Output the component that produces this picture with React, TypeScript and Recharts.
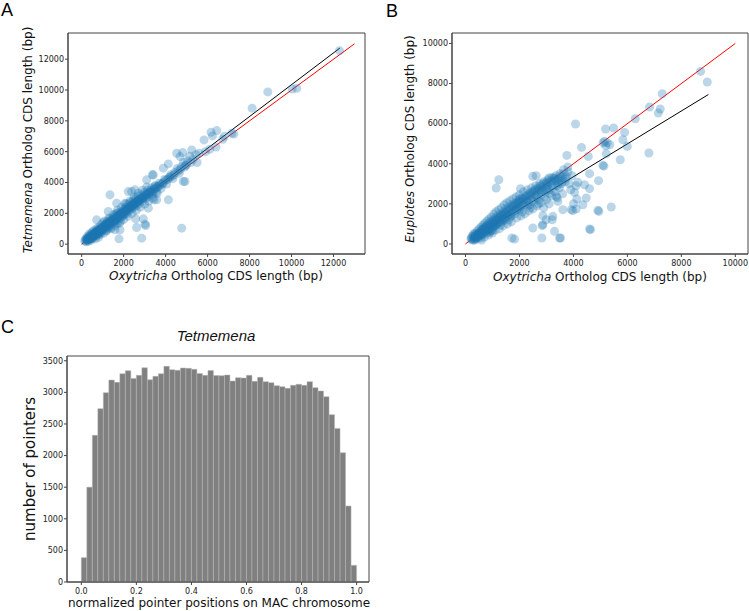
import React from 'react';
import {
  ScatterChart,
  Scatter,
  XAxis,
  YAxis,
  ZAxis,
  ReferenceLine,
  ReferenceArea,
  ComposedChart,
  Bar,
} from 'recharts';

// panel A: Oxytricha vs Tetmemena ortholog CDS length (bp)
const tetmemenaPoints: [number, number][] = [
  [150, 200], [180, 320], [210, 150], [240, 420], [260, 260], [290, 330], [300, 520], [320, 180],
  [340, 380], [360, 650], [380, 300], [400, 470], [420, 560], [440, 250], [460, 700], [480, 420],
  [500, 540], [520, 800], [540, 380], [560, 610], [580, 480], [600, 900], [620, 560], [640, 700],
  [660, 350], [680, 820], [700, 620], [720, 1000], [740, 560], [760, 760], [780, 880], [800, 450],
  [820, 1100], [840, 700], [860, 900], [880, 620], [900, 1000], [920, 1250], [950, 780], [980, 1050],
  [1000, 900], [1020, 1400], [1050, 700], [1080, 1150], [1100, 1000], [1130, 1300], [1160, 850],
  [1200, 1250], [1230, 1500], [1260, 1050], [1300, 1350], [1330, 1200], [1360, 1650], [1400, 1100],
  [1430, 1450], [1460, 1600], [1500, 1300], [1530, 1750], [1560, 1450], [1600, 1900], [1630, 1500],
  [1660, 1700], [1700, 1350], [1730, 1850], [1760, 2050], [1800, 1650], [1830, 1950], [1860, 1500],
  [1900, 2100], [1940, 1800], [1980, 2250], [2020, 1900], [2060, 2150], [2100, 2400], [2140, 1950],
  [2180, 2300], [2220, 2600], [2260, 2150], [2300, 2450], [2340, 2700], [2380, 2300], [2420, 2550],
  [2460, 2850], [2500, 2400], [2540, 2700], [2580, 2950], [2620, 2500], [2660, 2800], [2700, 3100],
  [2750, 2650], [2800, 2950], [2850, 3200], [2900, 2800], [2950, 3100], [3000, 3350], [3050, 2950],
  [3100, 3250], [3150, 3500], [3200, 3100], [3260, 3400], [3320, 3650], [3380, 3250], [3440, 3550],
  [3500, 3800], [3560, 3400], [3620, 3700], [3700, 3950], [3780, 3600], [3860, 3900], [3950, 4200],
  [4050, 3900], [4150, 4300], [4250, 4500], [4350, 4250], [4450, 4650], [4550, 4900], [4650, 4600],
  [4750, 5000], [4850, 5300], [4950, 5100], [5050, 5400], [5150, 5700], [5300, 5500], [5450, 5800],
  [250, 300], [330, 420], [430, 380], [520, 620], [610, 680], [700, 780], [790, 700], [870, 1000],
  [960, 950], [1040, 1150], [1120, 1150], [1210, 1350], [1290, 1250], [1380, 1500], [1470, 1450],
  [1550, 1650], [1640, 1600], [1720, 1800], [1810, 1800], [1890, 1950], [1970, 2050], [2050, 2000],
  [2130, 2250], [2210, 2250], [2290, 2400], [2370, 2500], [2450, 2550], [2530, 2650], [2610, 2700],
  [2690, 2850], [2770, 2900], [2860, 3000], [2940, 3000], [3030, 3150], [3120, 3200], [3210, 3350],
  [230, 240], [270, 350], [310, 280], [350, 330], [390, 450], [410, 360], [450, 480], [470, 540],
  [490, 400], [530, 520], [550, 660], [570, 560], [590, 610], [630, 640], [650, 720], [670, 600],
  [690, 760], [710, 700], [730, 840], [750, 680], [770, 820], [810, 880], [830, 760], [850, 960],
  [890, 900], [910, 860], [930, 1020], [970, 990], [990, 1100], [1010, 950], [1060, 1100], [1090, 1250],
  [1110, 1070], [1140, 1200], [1170, 1230], [1190, 1100], [1220, 1300], [1250, 1380], [1280, 1200],
  [1310, 1420], [1340, 1330], [1370, 1380], [1410, 1520], [1440, 1400], [1480, 1560], [1510, 1480],
  [1540, 1620], [1580, 1560], [1610, 1700], [1650, 1650], [1680, 1800], [1710, 1690], [1750, 1800],
  [1780, 1900], [1820, 1760], [1850, 1990], [1880, 1860], [1920, 2000], [1960, 1950], [2000, 2130],
  [2040, 2050], [2080, 2260], [2120, 2130], [2160, 2200], [2200, 2350], [2240, 2280], [2280, 2390],
  [2320, 2350], [2360, 2480], [2400, 2420], [2440, 2600], [2480, 2500], [2520, 2600], [2560, 2640],
  [2600, 2760], [2640, 2700], [2680, 2780], [2720, 2850], [2780, 2830], [2830, 2980], [2880, 2950],
  [2920, 3050], [2980, 3060], [3080, 3200], [3180, 3300], [3240, 3250], [3300, 3420], [3360, 3480],
  [3420, 3400], [3480, 3600], [3540, 3620], [3640, 3760], [3720, 3800], [3800, 3920], [3900, 4000],
  [4000, 4150], [4100, 4200], [4200, 4350], [4300, 4400], [4400, 4500], [4600, 4750], [4700, 4850],
  [4900, 5000], [5000, 5150], [5200, 5300],
  [1100, 1500], [1300, 1700], [1500, 1900], [1700, 2200], [1900, 2400], [2100, 2600], [2300, 2800],
  [2500, 3050], [2700, 3300], [2900, 3500], [3100, 3700], [1200, 900], [1400, 1000], [1600, 1200],
  [1800, 1350], [2000, 1600], [2200, 1800], [2400, 2000], [2600, 2200], [2800, 2400], [3000, 2600],
  [3200, 2800], [3400, 3000], [3600, 3300],
  [5600, 5900], [5900, 6000], [6100, 6150], [6400, 6300], [6800, 7000], [5500, 5300],
  [6166, 7263], [6437, 7368], [6230, 7023], [5832, 6763], [6723, 6809], [7153, 7198], [7250, 7150],
  [5245, 6115], [4530, 5900], [4816, 5940], [4688, 5681], [4845, 4060], [4130, 5207], [3100, 4170],
  [3415, 4494], [4130, 2873], [3576, 2873], [3177, 2334], [1350, 3197], [2938, 1640], [2623, 1077],
  [3052, 1206], [4768, 1038], [2861, 389], [1779, 344], [1826, 927], [1669, 2010], [715, 1576],
  [2065, 2659], [1669, 2659], [2384, 3411], [2542, 3521], [8121, 8820], [8870, 9877], [10030, 10070],
  [10250, 10116], [12285, 12555], [1269, 2114], [2222, 3411], [3495, 3735], [3892, 4929], [3367, 4494],
  [3019, 1297], [2575, 1640], [1588, 927], [3448, 2873], [4926, 4060],
];

// panel B: Oxytricha vs Euplotes ortholog CDS length (bp)
const euplotesPoints: [number, number][] = [
  [200, 250], [250, 400], [280, 180], [320, 320], [350, 520], [380, 250], [400, 420], [430, 650],
  [450, 300], [480, 500], [500, 750], [520, 380], [550, 600], [580, 850], [600, 450], [620, 700],
  [650, 950], [680, 520], [700, 800], [720, 1050], [750, 600], [780, 900], [800, 1150], [820, 680],
  [850, 1000], [880, 1250], [900, 750], [930, 1100], [960, 1350], [1000, 800], [1020, 1200],
  [1050, 1500], [1080, 900], [1100, 1300], [1130, 1600], [1160, 1000], [1200, 1400], [1230, 1700],
  [1260, 1100], [1300, 1500], [1330, 1800], [1360, 1200], [1400, 1600], [1430, 1950], [1460, 1300],
  [1500, 1750], [1530, 2050], [1560, 1400], [1600, 1850], [1640, 2150], [1680, 1500], [1720, 1950],
  [1760, 2250], [1800, 1650], [1840, 2050], [1880, 2350], [1920, 1750], [1960, 2150], [2000, 2450],
  [2050, 1850], [2100, 2300], [2150, 2600], [2200, 1950], [2250, 2400], [2300, 2700], [2350, 2100],
  [2400, 2550], [2450, 2800], [2500, 2200], [2550, 2650], [2600, 2900], [2650, 2300], [2700, 2750],
  [2750, 3000], [2800, 2450], [2850, 2850], [2900, 3100], [2950, 2600], [3000, 2950], [3050, 3200],
  [3100, 2700], [3150, 3050], [3200, 3300], [3250, 2800], [3300, 3150], [3350, 3400], [3400, 2900],
  [3450, 3250], [3500, 3500], [3550, 3000], [3600, 3300], [3700, 3100],
  [600, 200], [700, 350], [850, 450], [1000, 550], [1100, 700], [1250, 750], [1400, 900], [1550, 1000],
  [1700, 1100], [1900, 1300], [2050, 1400], [2200, 1500], [2350, 1650], [2500, 1750], [2650, 1900],
  [2800, 2050], [3000, 2200], [3200, 2400],
  [300, 500], [350, 200], [420, 350], [460, 550], [540, 450], [560, 300], [640, 600], [660, 800],
  [760, 700], [800, 550], [880, 850], [950, 650], [1050, 1050], [1150, 1200], [1250, 1300],
  [1350, 1450], [1450, 1500], [1550, 1650], [1650, 1750], [1750, 1850], [1850, 1900], [1950, 2000],
  [2050, 2100], [2150, 2200], [2250, 2250], [2350, 2400], [2450, 2500], [2550, 2450], [2650, 2600],
  [2750, 2700], [2850, 2650], [2950, 2800], [3050, 2900], [2300, 1900], [2000, 1700], [1700, 1400],
  [1400, 1150], [1100, 900], [900, 600],
  [220, 300], [260, 230], [300, 380], [330, 260], [370, 420], [390, 330], [440, 480], [470, 380],
  [510, 560], [530, 460], [570, 520], [590, 680], [630, 550], [670, 720], [690, 620], [730, 800],
  [770, 700], [790, 880], [830, 780], [860, 920], [890, 700], [920, 980], [940, 850], [980, 1050],
  [1010, 900], [1040, 1120], [1070, 1000], [1120, 1180], [1140, 950], [1180, 1250], [1210, 1080],
  [1240, 1320], [1280, 1200], [1320, 1400], [1340, 1100], [1380, 1450], [1420, 1300], [1450, 1550],
  [1480, 1250], [1520, 1600], [1580, 1500], [1620, 1700], [1660, 1350], [1700, 1800], [1740, 1600],
  [1780, 1900], [1820, 1500], [1860, 2000], [1900, 1700], [1940, 2050], [1980, 1800], [2020, 2150],
  [2080, 1900], [2120, 2250], [2180, 2050], [2220, 2350], [2280, 2150], [2320, 2450], [2380, 1950],
  [2420, 2350], [2480, 2600], [2520, 2100], [2580, 2700], [2620, 2400], [2680, 2800], [2720, 2200],
  [2780, 2900], [2820, 2600], [2880, 3000], [2920, 2350], [2980, 3050], [3020, 2700], [3080, 3100],
  [3120, 2500], [3180, 3150], [3220, 2900], [3280, 3300], [3320, 2600], [3380, 3200], [3420, 3000],
  [3480, 2800], [3520, 3400], [3580, 3100], [3650, 3500], [3750, 3350], [3800, 3600], [2100, 1600],
  [2400, 1800], [2700, 2000], [1600, 1200], [1300, 950], [1000, 700], [3100, 2000], [2900, 1800],
  [3400, 2300], [3600, 2500],
  [8713, 8605], [8961, 8074], [7293, 7493], [6822, 6829], [7218, 6729], [7145, 6530], [6291, 6246],
  [5895, 5563], [5995, 4866], [5833, 5199], [5736, 4202], [6797, 4536], [5488, 5782], [5191, 5732],
  [4079, 5982], [5154, 5116], [5250, 5050], [5350, 4950], [5216, 4501], [5092, 3920], [5130, 3880],
  [4301, 4816], [4550, 4367], [3757, 4417], [4931, 3156], [4598, 3505], [4412, 2956], [4598, 2757],
  [4165, 3071], [4042, 2572], [4474, 2293], [4128, 2243], [4005, 2009], [4350, 1959], [4104, 1745],
  [3919, 1710], [3608, 1710], [5402, 1844], [4943, 1625], [4598, 748], [3522, 299], [2830, 299],
  [3300, 628], [2867, 962], [3214, 1211], [2867, 1410], [1817, 249], [2496, 798], [1236, 3205],
  [1137, 2792], [2496, 3371], [2620, 3405], [3362, 2373], [3423, 2124], [3794, 3838], [3634, 3704],
  [3100, 3300], [3300, 3250], [3450, 3150], [2002, 2243], [3950, 3400], [3700, 3250], [3850, 3000],
  [3900, 2700], [4100, 2900], [5100, 5050], [5200, 4900], [2039, 2757], [1718, 299], [2843, 912],
  [3485, 299], [4635, 713], [4906, 1675], [3978, 1660], [3237, 1376], [2992, 1211],
];

const tetIdentity = [{ x: 0, y: 0 }, { x: 13000, y: 13000 }];
const tetFit = [{ x: 150, y: 180 }, { x: 12300, y: 12720 }];
const eupIdentity = [{ x: 0, y: 0 }, { x: 10000, y: 10000 }];
const eupFit = [{ x: 250, y: 280 }, { x: 9000, y: 7450 }];

const tetTicks = [0, 2000, 4000, 6000, 8000, 10000, 12000];
const eupTicks = [0, 2000, 4000, 6000, 8000, 10000];

// panel C: pointer positions histogram, 50 bins on [0, 1]
const pointerCounts = [
  385, 1500, 2320, 2742, 2995, 3194, 3158, 3295, 3343, 3221,
  3269, 3390, 3200, 3253, 3295, 3411, 3358, 3348, 3385, 3380,
  3364, 3300, 3269, 3345, 3266, 3264, 3274, 3179, 3232, 3227,
  3269, 3174, 3237, 3169, 3153, 3106, 3090, 3063, 3111, 3127,
  3111, 3169, 3074, 3021, 2932, 2647, 2430, 2045, 1202, 264,
];
const binWidth = 0.02;
const posTicks = [0, 0.2, 0.4, 0.6, 0.8, 1.0];
const countTicks = [0, 500, 1000, 1500, 2000, 2500, 3000, 3500];

const histData = pointerCounts.map((count, i) => ({ x: binWidth * i + binWidth / 2, count }));
const tetData = tetmemenaPoints.map(([x, y]) => ({ x, y }));
const eupData = euplotesPoints.map(([x, y]) => ({ x, y }));

const FONT = 'DejaVu Sans';
const AX = '#444';
const tickStyle = { fontSize: 8, fill: '#222', fontFamily: FONT };

const SCATTER_BLUE = '#1f77b4';

export default function App() {
  const tA: [number, number] = [-650, 13500];
  const tAy: [number, number] = [-640, 13700];
  const bX: [number, number] = [-500, 10470];
  const bY: [number, number] = [-500, 10520];
  const cX: [number, number] = [-0.052, 1.045];
  const cY: [number, number] = [0, 3575];

  return (
    <div style={{ position: 'absolute', left: 0, top: 0, width: 749, height: 611, background: '#fff' }}>
      <div style={{ position: 'absolute', left: 0, top: 0 }}>
        <ScatterChart width={370} height={290} margin={{ top: 33, right: 5, left: 28, bottom: 16 }}>
          <XAxis type="number" dataKey="x" domain={tA} allowDataOverflow ticks={tetTicks}
            tick={tickStyle} tickSize={3} tickMargin={3} stroke={AX} height={20} />
          <YAxis type="number" dataKey="y" domain={tAy} allowDataOverflow ticks={tetTicks}
            tick={tickStyle} tickSize={3} tickMargin={1} stroke={AX} width={40} />
          <ZAxis range={[30, 30]} />
          <ReferenceArea x1={tA[0]} x2={tA[1]} y1={tAy[0]} y2={tAy[1]} fill="none" stroke={AX} ifOverflow="visible" />
          <Scatter data={tetData} fill={SCATTER_BLUE} fillOpacity={0.3} isAnimationActive={false} />
          <ReferenceLine segment={tetIdentity} stroke="#ff0000" strokeWidth={1} />
          <ReferenceLine segment={tetFit} stroke="#000" strokeWidth={1} />
        </ScatterChart>
      </div>

      <div style={{ position: 'absolute', left: 370, top: 0 }}>
        <ScatterChart width={379} height={290} margin={{ top: 33, right: 1, left: 42, bottom: 16 }}>
          <XAxis type="number" dataKey="x" domain={bX} allowDataOverflow ticks={eupTicks}
            tick={tickStyle} tickSize={3} tickMargin={3} stroke={AX} height={20} />
          <YAxis type="number" dataKey="y" domain={bY} allowDataOverflow ticks={eupTicks}
            tick={tickStyle} tickSize={3} tickMargin={1} stroke={AX} width={40} />
          <ZAxis range={[30, 30]} />
          <ReferenceArea x1={bX[0]} x2={bX[1]} y1={bY[0]} y2={bY[1]} fill="none" stroke={AX} ifOverflow="visible" />
          <Scatter data={eupData} fill={SCATTER_BLUE} fillOpacity={0.3} isAnimationActive={false} />
          <ReferenceLine segment={eupIdentity} stroke="#ff0000" strokeWidth={1} />
          <ReferenceLine segment={eupFit} stroke="#000" strokeWidth={1} />
        </ScatterChart>
      </div>

      <div style={{ position: 'absolute', left: 0, top: 300 }}>
        <ComposedChart width={370} height={311} data={histData} margin={{ top: 56, right: 1, left: 27, bottom: 9 }}
          barCategoryGap={0} barGap={0}>
          <XAxis type="number" dataKey="x" domain={cX} allowDataOverflow ticks={posTicks}
            tickFormatter={(v: number) => v.toFixed(1)}
            tick={tickStyle} tickSize={3} tickMargin={3} stroke={AX} height={20} />
          <YAxis type="number" domain={cY} allowDataOverflow ticks={countTicks}
            tick={tickStyle} tickSize={3} tickMargin={1} stroke={AX} width={40} />
          <ReferenceArea x1={cX[0]} x2={cX[1]} y1={cY[0]} y2={cY[1]} fill="none" stroke={AX} ifOverflow="visible" />
          <Bar dataKey="count" fill="#808080" stroke="#b4b4b4" strokeWidth={0.5} barSize={5.45} isAnimationActive={false} />
        </ComposedChart>
      </div>

      <svg width={749} height={611} style={{ position: 'absolute', left: 0, top: 0, pointerEvents: 'none' }}>
        <g fontFamily="Liberation Sans" fontSize={18} fill="#000">
          <text x={1} y={16}>A</text>
          <text x={386} y={17}>B</text>
          <text x={1} y={333}>C</text>
        </g>
        <g fontFamily={FONT} fontSize={12} fill="#111">
          <text x={216} y={280} textAnchor="middle">
            <tspan fontStyle="italic">Oxytricha</tspan> Ortholog CDS length (bp)
          </text>
          <text transform="translate(32,140) rotate(-90)" textAnchor="middle">
            <tspan fontStyle="italic">Tetmemena</tspan> Ortholog CDS length (bp)
          </text>
          <text x={600} y={281} textAnchor="middle">
            <tspan fontStyle="italic">Oxytricha</tspan> Ortholog CDS length (bp)
          </text>
          <text transform="translate(414,139) rotate(-90)" textAnchor="middle">
            <tspan fontStyle="italic">Euplotes</tspan> Ortholog CDS length (bp)
          </text>
          <text x={219} y={607} textAnchor="middle">normalized pointer positions on MAC chromosome</text>
          <text transform="translate(35,469) rotate(-90)" textAnchor="middle" fontSize={15}>number of pointers</text>
        </g>
        <text x={216} y={341} textAnchor="middle" fontFamily="Liberation Sans" fontStyle="italic" fontSize={15} fill="#111">
          Tetmemena
        </text>
      </svg>
    </div>
  );
}
